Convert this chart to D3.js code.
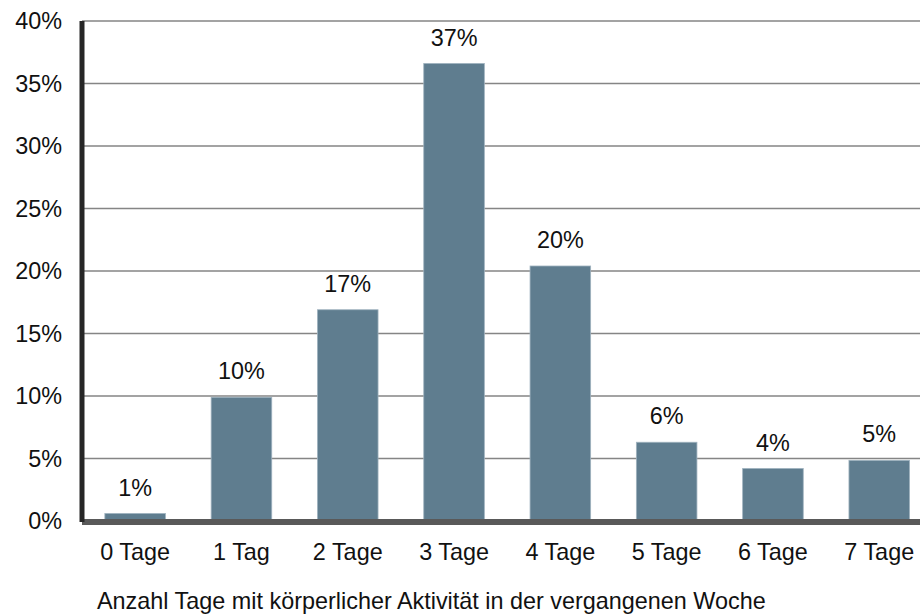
<!DOCTYPE html>
<html>
<head>
<meta charset="utf-8">
<script src="https://cdn.jsdelivr.net/npm/d3@7"></script>
<style>
  body { margin: 0; background: #fff; }
  svg { font-family: Arial, "Liberation Sans", sans-serif; }
</style>
</head>
<body>
<div id="chart"></div>
<script>
const categories = ["0 Tage", "1 Tag", "2 Tage", "3 Tage", "4 Tage", "5 Tage", "6 Tage", "7 Tage"];
const values = [0.6, 9.9, 16.9, 36.6, 20.4, 6.3, 4.2, 4.85];
const valueLabels = ["1%", "10%", "17%", "37%", "20%", "6%", "4%", "5%"];
const yTicks = [0, 5, 10, 15, 20, 25, 30, 35, 40];
const xTitle = "Anzahl Tage mit körperlicher Aktivität in der vergangenen Woche";

const width = 920, height = 614;
const margin = { top: 21, left: 82, bottom: 93 };
const plotBottom = height - margin.bottom;
const step = 106.3;
const fontSize = "23.4px";

const svg = d3.select("#chart")
  .append("svg")
  .attr("width", width)
  .attr("height", height);

const x = d3.scaleBand()
  .domain(categories)
  .range([margin.left, margin.left + step * categories.length])
  .paddingInner(0.43)
  .paddingOuter(0.215);

const y = d3.scaleLinear()
  .domain([0, 40])
  .range([plotBottom, margin.top]);

// gridlines
svg.append("g")
  .selectAll("line")
  .data(yTicks.filter(d => d > 0))
  .enter().append("line")
  .attr("x1", margin.left)
  .attr("x2", width)
  .attr("y1", d => y(d))
  .attr("y2", d => y(d))
  .attr("stroke", "#858585")
  .attr("stroke-width", 1.6);

// y tick labels
svg.append("g")
  .selectAll("text")
  .data(yTicks)
  .enter().append("text")
  .attr("x", 62)
  .attr("y", d => y(d))
  .attr("dy", "0.36em")
  .attr("text-anchor", "end")
  .attr("font-size", fontSize)
  .attr("fill", "#111")
  .text(d => d + "%");

// bars
svg.append("g")
  .selectAll("rect")
  .data(values)
  .enter().append("rect")
  .attr("x", (d, i) => x(categories[i]))
  .attr("y", d => y(d))
  .attr("width", x.bandwidth())
  .attr("height", d => plotBottom - y(d))
  .attr("fill", "#5f7d8f")
  .attr("stroke", "#9fb2bf")
  .attr("stroke-width", 0.8);

// value labels
svg.append("g")
  .selectAll("text")
  .data(values)
  .enter().append("text")
  .attr("x", (d, i) => x(categories[i]) + x.bandwidth() / 2)
  .attr("y", d => y(d) - 18)
  .attr("text-anchor", "middle")
  .attr("font-size", fontSize)
  .attr("fill", "#111")
  .text((d, i) => valueLabels[i]);

// x axis line
svg.append("line")
  .attr("x1", margin.left)
  .attr("x2", width)
  .attr("y1", plotBottom + 1)
  .attr("y2", plotBottom + 1)
  .attr("stroke", "#595959")
  .attr("stroke-width", 6);

// y axis line
svg.append("line")
  .attr("x1", margin.left)
  .attr("x2", margin.left)
  .attr("y1", margin.top)
  .attr("y2", plotBottom + 1)
  .attr("stroke", "#262626")
  .attr("stroke-width", 5);

// x tick labels
svg.append("g")
  .selectAll("text")
  .data(categories)
  .enter().append("text")
  .attr("x", d => x(d) + x.bandwidth() / 2)
  .attr("y", 560)
  .attr("text-anchor", "middle")
  .attr("font-size", fontSize)
  .attr("fill", "#111")
  .text(d => d);

// x axis title
svg.append("text")
  .attr("x", 97)
  .attr("y", 609)
  .attr("font-size", fontSize)
  .attr("fill", "#111")
  .text(xTitle);
</script>
</body>
</html>
